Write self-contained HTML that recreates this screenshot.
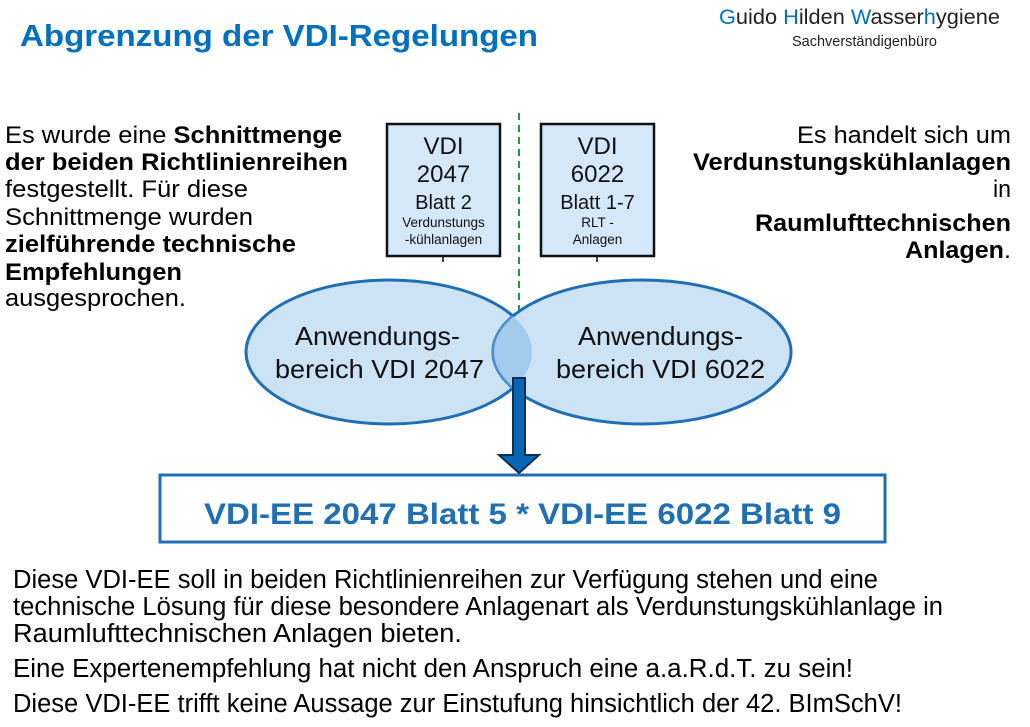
<!DOCTYPE html>
<html><head><meta charset="utf-8"><style>
html,body{margin:0;padding:0;background:#fff;width:1030px;height:727px;overflow:hidden}
svg{display:block}
text{font-family:"Liberation Sans",Arial,sans-serif}
</style></head><body>
<svg width="1030" height="727" viewBox="0 0 1030 727" xmlns="http://www.w3.org/2000/svg">
<text x="20" y="46" font-size="31" font-weight="bold" fill="#0070C0" textLength="518" lengthAdjust="spacingAndGlyphs">Abgrenzung der VDI-Regelungen</text>
<text x="719" y="24" font-size="21" fill="#222" textLength="281" lengthAdjust="spacingAndGlyphs"><tspan fill="#0070C0">G</tspan>uido <tspan fill="#0070C0">H</tspan>ilden <tspan fill="#0070C0">W</tspan>asser<tspan fill="#0070C0">h</tspan>ygiene</text>
<text x="792" y="46" font-size="15" fill="#222" textLength="145" lengthAdjust="spacingAndGlyphs">Sachverständigenbüro</text>

<g font-size="24" fill="#000">
<text x="5" y="143" textLength="337" lengthAdjust="spacingAndGlyphs">Es wurde eine <tspan font-weight="bold">Schnittmenge</tspan></text>
<text x="5" y="170" font-weight="bold" textLength="343" lengthAdjust="spacingAndGlyphs">der beiden Richtlinienreihen</text>
<text x="5" y="197" textLength="243" lengthAdjust="spacingAndGlyphs">festgestellt. Für diese</text>
<text x="5" y="225" textLength="248" lengthAdjust="spacingAndGlyphs">Schnittmenge wurden</text>
<text x="5" y="252" font-weight="bold" textLength="291" lengthAdjust="spacingAndGlyphs">zielführende technische</text>
<text x="5" y="280" font-weight="bold" textLength="177" lengthAdjust="spacingAndGlyphs">Empfehlungen</text>
<text x="5" y="306" textLength="181" lengthAdjust="spacingAndGlyphs">ausgesprochen.</text>

<text x="797" y="143" textLength="214" lengthAdjust="spacingAndGlyphs">Es handelt sich um</text>
<text x="693" y="170" font-weight="bold" textLength="318" lengthAdjust="spacingAndGlyphs">Verdunstungskühlanlagen</text>
<text x="993" y="197" textLength="18" lengthAdjust="spacingAndGlyphs">in</text>
<text x="755" y="231" font-weight="bold" textLength="256" lengthAdjust="spacingAndGlyphs">Raumlufttechnischen</text>
<text x="905" y="258" textLength="106" lengthAdjust="spacingAndGlyphs"><tspan font-weight="bold">Anlagen</tspan>.</text>
</g>

<line x1="519" y1="113" x2="519" y2="312" stroke="#1a9e45" stroke-width="2" stroke-dasharray="7,5"/>

<line x1="443" y1="256" x2="443" y2="262" stroke="#000" stroke-width="1.5"/>
<line x1="597" y1="256" x2="597" y2="262" stroke="#000" stroke-width="1.5"/>
<rect x="387" y="124" width="113" height="132" fill="#d4e8fa" stroke="#111" stroke-width="2.5"/>
<rect x="541" y="124" width="113" height="132" fill="#d4e8fa" stroke="#111" stroke-width="2.5"/>
<g fill="#111" text-anchor="middle">
<text x="443.5" y="154" font-size="24">VDI</text>
<text x="443.5" y="182" font-size="24">2047</text>
<text x="443.5" y="209" font-size="20">Blatt 2</text>
<text x="443.5" y="227" font-size="13.5">Verdunstungs</text>
<text x="443.5" y="244" font-size="13.5">-kühlanlagen</text>
<text x="597.5" y="154" font-size="24">VDI</text>
<text x="597.5" y="182" font-size="24">6022</text>
<text x="597.5" y="209" font-size="20">Blatt 1-7</text>
<text x="597.5" y="227" font-size="13.5">RLT -</text>
<text x="597.5" y="244" font-size="13.5">Anlagen</text>
</g>

<defs><clipPath id="cl"><ellipse cx="389" cy="352" rx="143" ry="72"/></clipPath></defs>
<ellipse cx="389" cy="352" rx="143" ry="72" fill="#cce2f5" stroke="#1f6fb2" stroke-width="3"/>
<ellipse cx="642" cy="352" rx="149" ry="72" fill="#cce2f5" stroke="#1f6fb2" stroke-width="3"/>
<ellipse cx="642" cy="352" rx="149" ry="72" fill="#a4cbec" stroke="#4e94cc" stroke-width="2" clip-path="url(#cl)"/>
<g font-size="26" fill="#111">
<text x="295" y="345" textLength="165" lengthAdjust="spacingAndGlyphs">Anwendungs-</text>
<text x="275" y="378" textLength="209" lengthAdjust="spacingAndGlyphs">bereich VDI 2047</text>
<text x="578" y="345" textLength="165" lengthAdjust="spacingAndGlyphs">Anwendungs-</text>
<text x="556" y="378" textLength="209" lengthAdjust="spacingAndGlyphs">bereich VDI 6022</text>
</g>

<polygon points="513,378 525,378 525,455 539,455 519,473 499,455 513,455" fill="#0a66b5" stroke="#0c2f55" stroke-width="2"/>

<rect x="160" y="475" width="725" height="67" fill="#fff" stroke="#1f6fb2" stroke-width="3"/>
<text x="204" y="524" font-size="30" font-weight="bold" fill="#1f6fb2" textLength="637" lengthAdjust="spacingAndGlyphs">VDI-EE 2047 Blatt 5 * VDI-EE 6022 Blatt 9</text>

<g font-size="25.5" fill="#000">
<text x="13" y="588" textLength="865" lengthAdjust="spacingAndGlyphs">Diese VDI-EE soll in beiden Richtlinienreihen zur Verfügung stehen und eine</text>
<text x="13" y="615" textLength="930" lengthAdjust="spacingAndGlyphs">technische Lösung für diese besondere Anlagenart als Verdunstungskühlanlage in</text>
<text x="13" y="642" textLength="449" lengthAdjust="spacingAndGlyphs">Raumlufttechnischen Anlagen bieten.</text>
<text x="13" y="677" textLength="840" lengthAdjust="spacingAndGlyphs">Eine Expertenempfehlung hat nicht den Anspruch eine a.a.R.d.T. zu sein!</text>
<text x="13" y="712" textLength="889" lengthAdjust="spacingAndGlyphs">Diese VDI-EE trifft keine Aussage zur Einstufung hinsichtlich der 42. BImSchV!</text>
</g>
</svg>
</body></html>
